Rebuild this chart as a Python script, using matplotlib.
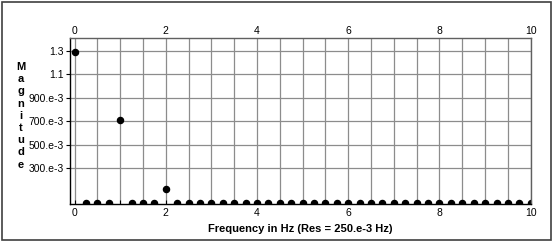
import numpy as np
import matplotlib
matplotlib.use('Agg')
import matplotlib.pyplot as plt
from matplotlib.patches import Rectangle

plt.rcParams['font.family']=['Liberation Sans','DejaVu Sans']

# spectrum, 250 mHz resolution
freq=[0.0,0.25,0.5,0.75,1.0,1.25,1.5,1.75,2.0,2.25,2.5,2.75,3.0,3.25,3.5,3.75,
      4.0,4.25,4.5,4.75,5.0,5.25,5.5,5.75,6.0,6.25,6.5,6.75,7.0,7.25,7.5,7.75,
      8.0,8.25,8.5,8.75,9.0,9.25,9.5,9.75,10.0]
mag=[1.29,0.0,0.0,0.0,0.71,0.0,0.0,-0.002,0.12,-0.002,-0.002,-0.002,-0.002,-0.002,-0.002,-0.002,
     0.002,-0.002,-0.002,-0.002,-0.002,-0.002,-0.002,-0.002,0.0,-0.002,-0.002,-0.002,-0.002,-0.002,-0.002,-0.002,
     -0.002,-0.002,-0.002,-0.002,-0.002,-0.002,-0.002,-0.002,-0.002]
ytick_vals=[0.3,0.5,0.7,0.9,1.1,1.3]
ytick_text=['300.e-3','500.e-3','700.e-3','900.e-3','1.1','1.3']
xtick_vals=[0,2,4,6,8,10]
ylabel='Magnitude'

fig=plt.figure(figsize=(5.53,2.42),dpi=100)
fig.patches.append(Rectangle((0.004,0.008),0.992,0.985,transform=fig.transFigure,
                             fill=False,edgecolor='#404040',linewidth=1.2))
ax=fig.add_axes([0.1257,0.157,0.8340,0.686])
ax.plot(freq,mag,'o',color='black',markersize=4.4,clip_on=True)
ax.set_xlim(-0.11,10)
ax.set_ylim(-0.008,1.411)
ax.set_xticks(xtick_vals)
ax.set_xticks(np.arange(0,10.01,0.5),minor=True)
ax.set_yticks(ytick_vals)
ax.set_yticklabels(ytick_text)
ax.grid(True,which='both',axis='x',color='#8c8c8c',linewidth=0.9)
ax.grid(True,which='major',axis='y',color='#8c8c8c',linewidth=0.9)
ax.set_axisbelow(True)
ax.tick_params(axis='x',which='both',direction='in',length=3,width=0.8,
               labelsize=7.5,pad=3)
ax.tick_params(axis='y',direction='out',length=3,width=0.8,labelsize=7.5,pad=1)
top=ax.secondary_xaxis('top')
top.set_xticks(xtick_vals)
top.tick_params(length=0,labelsize=7.5,pad=1.5)
top.spines['top'].set_visible(False)
for s in ax.spines.values():
    s.set_linewidth(1.0)
    s.set_color('black')
ax.spines['top'].set_color('#606060')
ax.spines['right'].set_color('#606060')
ax.set_xlabel('Frequency in Hz (Res = 250.e-3 Hz)',fontsize=8,fontweight='bold',labelpad=4)
for i,ch in enumerate(ylabel):
    fig.text(0.037,1-(67+i*12.2)/242,ch,fontsize=8,fontweight='bold',
             ha='center',va='center')
fig.savefig('out.png',dpi=100)
